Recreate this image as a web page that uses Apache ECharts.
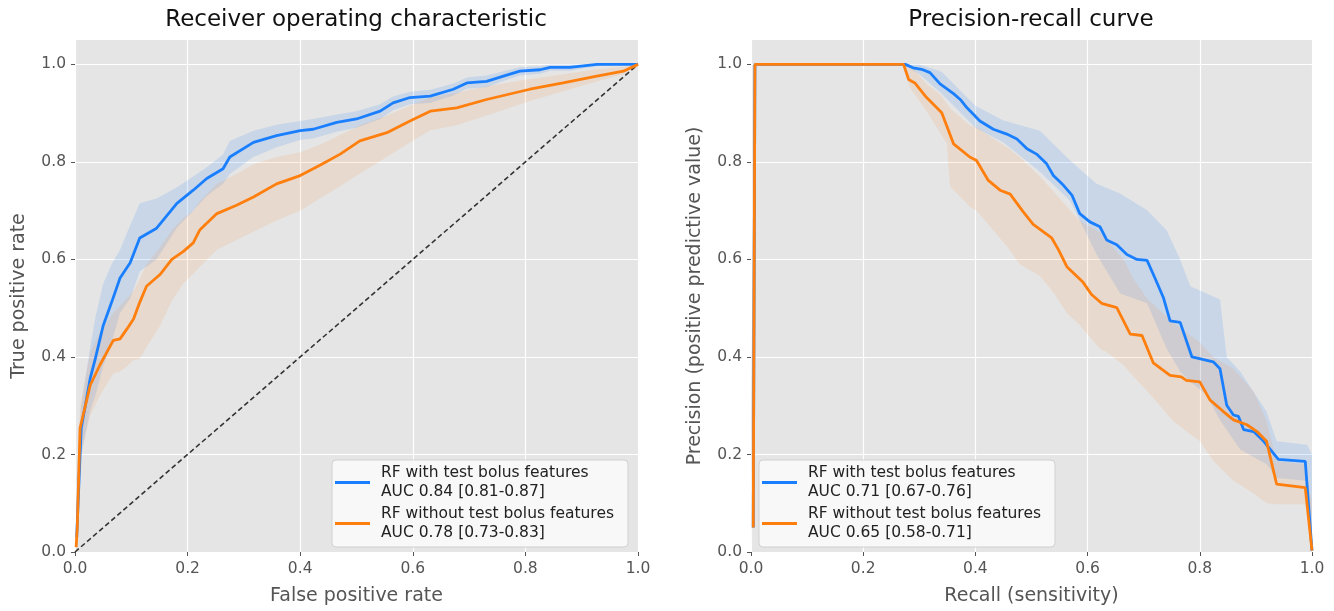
<!DOCTYPE html>
<html>
<head>
<meta charset="utf-8">
<script src="https://cdn.jsdelivr.net/npm/echarts@6/dist/echarts.min.js"></script>
<style>
html,body{margin:0;padding:0;background:#fff;}
#chart{width:1334px;height:611px;}
</style>
</head>
<body>
<div id="chart"></div>
<script>
// ---------- DATA ----------
const axisTicks = [0, 0.2, 0.4, 0.6, 0.8, 1.0];

const titles = ['Receiver operating characteristic', 'Precision-recall curve'];
const xNames = ['False positive rate', 'Recall (sensitivity)'];
const yNames = ['True positive rate', 'Precision (positive predictive value)'];

const rocNames = ['RF with test bolus features\nAUC 0.84 [0.81-0.87]',
                  'RF without test bolus features\nAUC 0.78 [0.73-0.83]'];
const prNames  = ['RF with test bolus features\nAUC 0.71 [0.67-0.76]',
                  'RF without test bolus features\nAUC 0.65 [0.58-0.71]'];

const chanceLine = [[0, 0], [1, 1]];

// ROC - with test bolus features (blue)
const rocFprB = [0.003, 0.011, 0.027, 0.036, 0.05, 0.065, 0.08, 0.098, 0.115, 0.145, 0.181, 0.21, 0.234, 0.263, 0.275, 0.317, 0.358, 0.4, 0.423, 0.465, 0.5, 0.542, 0.565, 0.595, 0.631, 0.672, 0.696, 0.731, 0.761, 0.79, 0.826, 0.844, 0.879, 0.927, 1.0];
const rocTprB = [0.03, 0.254, 0.356, 0.396, 0.464, 0.512, 0.562, 0.593, 0.644, 0.664, 0.715, 0.742, 0.766, 0.786, 0.81, 0.84, 0.854, 0.864, 0.867, 0.881, 0.888, 0.904, 0.921, 0.932, 0.935, 0.949, 0.962, 0.965, 0.976, 0.986, 0.989, 0.994, 0.994, 1.0, 1.0];
const rocHiB  = [0.15, 0.30, 0.42, 0.48, 0.55, 0.59, 0.62, 0.67, 0.715, 0.725, 0.748, 0.77, 0.789, 0.815, 0.843, 0.864, 0.876, 0.884, 0.888, 0.897, 0.904, 0.918, 0.934, 0.944, 0.948, 0.961, 0.973, 0.977, 0.986, 0.994, 0.996, 1.0, 1.0, 1.0, 1.0];
const rocLoB  = [0.0, 0.20, 0.29, 0.32, 0.38, 0.43, 0.49, 0.52, 0.575, 0.60, 0.665, 0.70, 0.73, 0.755, 0.775, 0.81, 0.83, 0.845, 0.848, 0.862, 0.87, 0.888, 0.906, 0.918, 0.921, 0.936, 0.950, 0.953, 0.966, 0.977, 0.981, 0.987, 0.987, 0.996, 1.0];

// ROC - without test bolus features (orange)
const rocFprO = [0.002, 0.004, 0.009, 0.027, 0.044, 0.068, 0.08, 0.092, 0.104, 0.115, 0.127, 0.151, 0.172, 0.192, 0.21, 0.222, 0.252, 0.287, 0.317, 0.358, 0.4, 0.435, 0.471, 0.506, 0.554, 0.595, 0.631, 0.678, 0.731, 0.808, 0.867, 0.927, 0.974, 1.0];
const rocTprO = [0.01, 0.05, 0.254, 0.342, 0.383, 0.434, 0.437, 0.457, 0.478, 0.512, 0.545, 0.569, 0.600, 0.616, 0.634, 0.661, 0.694, 0.711, 0.728, 0.755, 0.772, 0.793, 0.816, 0.843, 0.860, 0.884, 0.904, 0.911, 0.928, 0.949, 0.962, 0.976, 0.986, 1.0];
const rocHiO  = [0.10, 0.15, 0.30, 0.41, 0.45, 0.49, 0.505, 0.52, 0.535, 0.56, 0.59, 0.625, 0.66, 0.685, 0.70, 0.72, 0.755, 0.775, 0.795, 0.81, 0.82, 0.835, 0.855, 0.875, 0.895, 0.915, 0.932, 0.942, 0.955, 0.97, 0.98, 0.99, 0.995, 1.0];
const rocLoO  = [0.0, 0.0, 0.19, 0.28, 0.32, 0.366, 0.37, 0.38, 0.393, 0.396, 0.42, 0.464, 0.515, 0.55, 0.57, 0.585, 0.62, 0.64, 0.657, 0.68, 0.70, 0.725, 0.75, 0.776, 0.81, 0.84, 0.865, 0.875, 0.895, 0.925, 0.945, 0.965, 0.98, 1.0];

// Precision-recall - with test bolus features (blue)
const prRecB  = [0.004, 0.007, 0.275, 0.289, 0.304, 0.319, 0.337, 0.361, 0.373, 0.385, 0.408, 0.432, 0.456, 0.474, 0.492, 0.509, 0.527, 0.539, 0.557, 0.572, 0.586, 0.604, 0.622, 0.634, 0.652, 0.670, 0.688, 0.706, 0.720, 0.735, 0.747, 0.765, 0.786, 0.824, 0.836, 0.848, 0.860, 0.869, 0.878, 0.896, 0.914, 0.940, 0.988, 1.0];
const prPrecB = [0.05, 1.0, 1.0, 0.993, 0.99, 0.983, 0.96, 0.94, 0.928, 0.911, 0.884, 0.867, 0.857, 0.847, 0.827, 0.816, 0.796, 0.772, 0.752, 0.732, 0.694, 0.677, 0.667, 0.640, 0.630, 0.610, 0.600, 0.598, 0.562, 0.522, 0.474, 0.471, 0.400, 0.390, 0.376, 0.301, 0.281, 0.278, 0.251, 0.247, 0.227, 0.190, 0.186, 0.003];
const prBandRecB = [0.0, 0.007, 0.27, 0.30, 0.34, 0.40, 0.45, 0.515, 0.569, 0.616, 0.658, 0.706, 0.741, 0.765, 0.783, 0.812, 0.836, 0.848, 0.872, 0.919, 0.937, 0.991, 1.0];
const prHiB = [0.30, 1.0, 1.0, 1.0, 0.985, 0.915, 0.885, 0.864, 0.803, 0.755, 0.735, 0.701, 0.66, 0.60, 0.545, 0.53, 0.518, 0.40, 0.37, 0.288, 0.227, 0.22, 0.20];
const prLoB = [0.0, 1.0, 1.0, 0.98, 0.94, 0.87, 0.84, 0.78, 0.72, 0.61, 0.53, 0.51, 0.417, 0.37, 0.349, 0.322, 0.27, 0.25, 0.21, 0.18, 0.152, 0.146, 0.0];

// Precision-recall - without test bolus features (orange)
const prRecO  = [0.004, 0.007, 0.272, 0.281, 0.292, 0.313, 0.340, 0.361, 0.390, 0.402, 0.423, 0.444, 0.462, 0.485, 0.503, 0.536, 0.548, 0.563, 0.592, 0.607, 0.625, 0.652, 0.676, 0.697, 0.717, 0.747, 0.767, 0.776, 0.800, 0.818, 0.842, 0.860, 0.884, 0.902, 0.919, 0.937, 0.988, 1.0];
const prPrecO = [0.05, 1.0, 1.0, 0.969, 0.962, 0.932, 0.901, 0.837, 0.810, 0.803, 0.762, 0.742, 0.734, 0.698, 0.672, 0.644, 0.620, 0.585, 0.553, 0.528, 0.510, 0.501, 0.447, 0.444, 0.388, 0.362, 0.359, 0.352, 0.349, 0.312, 0.288, 0.271, 0.261, 0.247, 0.227, 0.139, 0.132, 0.003];
const prBandRecO = [0.0, 0.007, 0.27, 0.283, 0.313, 0.337, 0.349, 0.355, 0.39, 0.402, 0.456, 0.479, 0.515, 0.539, 0.563, 0.586, 0.622, 0.634, 0.664, 0.682, 0.706, 0.753, 0.80, 0.824, 0.86, 0.896, 0.919, 0.937, 0.988, 1.0];
const prHiO = [0.25, 1.0, 1.0, 1.0, 0.96, 0.938, 0.92, 0.91, 0.875, 0.871, 0.83, 0.81, 0.77, 0.74, 0.708, 0.68, 0.655, 0.64, 0.60, 0.56, 0.52, 0.47, 0.43, 0.40, 0.376, 0.329, 0.268, 0.186, 0.18, 0.10];
const prLoO = [0.0, 1.0, 1.0, 0.952, 0.904, 0.86, 0.837, 0.749, 0.708, 0.70, 0.627, 0.59, 0.566, 0.532, 0.49, 0.465, 0.417, 0.41, 0.383, 0.36, 0.33, 0.268, 0.227, 0.187, 0.146, 0.12, 0.10, 0.098, 0.098, 0.0];

// ---------- STYLE ----------
const FONT = 'DejaVu Sans';
const BLUE = '#1a7fff';
const ORANGE = '#ff7f0e';
const BLUE_BAND = 'rgba(30,128,255,0.14)';
const ORANGE_BAND = 'rgba(255,127,14,0.11)';

function zip(xs, ys) { return xs.map((x, i) => [x, ys[i]]); }

function band(idx, xs, lo, hi, color) {
  return {
    type: 'custom', xAxisIndex: idx, yAxisIndex: idx, silent: true, z: 1,
    data: xs.map((x, i) => [x, lo[i], hi[i]]),
    encode: { x: 0, y: [1, 2] },
    renderItem: function (params, api) {
      if (params.dataIndex !== 0) return null;
      const pts = [];
      for (let i = 0; i < xs.length; i++) pts.push(api.coord([xs[i], lo[i]]));
      for (let i = xs.length - 1; i >= 0; i--) pts.push(api.coord([xs[i], hi[i]]));
      return { type: 'polygon', shape: { points: pts }, style: { fill: color } };
    }
  };
}

function line(idx, name, xs, ys, color) {
  return {
    type: 'line', name: name, xAxisIndex: idx, yAxisIndex: idx, z: 5,
    data: zip(xs, ys), showSymbol: false, symbol: 'none',
    lineStyle: { color: color, width: 2.8 }, itemStyle: { color: color },
    animation: false
  };
}

function xAxis(idx) {
  return {
    type: 'value', gridIndex: idx, min: 0, max: 1, interval: 0.2,
    name: xNames[idx], nameLocation: 'middle', nameGap: 35,
    nameTextStyle: { fontFamily: FONT, fontSize: 19, color: '#555' },
    axisLine: { show: false },
    axisTick: { show: true, length: 4, lineStyle: { color: '#555', width: 1 } },
    axisLabel: { fontFamily: FONT, fontSize: 15.5, color: '#555', margin: 9,
      formatter: v => v.toFixed(1) },
    splitLine: { show: true, lineStyle: { color: '#ffffff', width: 1.2 } }
  };
}
function yAxis(idx) {
  return {
    type: 'value', gridIndex: idx, min: 0, max: 1.05, interval: 0.2,
    name: yNames[idx], nameLocation: 'middle', nameGap: 46,
    nameTextStyle: { fontFamily: FONT, fontSize: 19, color: '#555' },
    axisLine: { show: false },
    axisTick: { show: true, length: 4, lineStyle: { color: '#555', width: 1 }, customValues: axisTicks },
    axisLabel: { fontFamily: FONT, fontSize: 15.5, color: '#555', margin: 9,
      customValues: axisTicks, formatter: v => (v > 1.001 ? '' : v.toFixed(1)) },
    splitLine: { show: true, lineStyle: { color: '#ffffff', width: 1.2 } }
  };
}

function legend(left, names) {
  return {
    data: names, left: left, top: 460, orient: 'vertical', selectedMode: false,
    icon: 'rect', itemWidth: 35, itemHeight: 3, itemGap: 2,
    backgroundColor: 'rgba(250,250,250,0.92)', borderColor: '#d0d0d0', borderWidth: 1,
    borderRadius: 4, padding: [3, 14, 4, 3],
    textStyle: { fontFamily: FONT, fontSize: 15.5, color: '#222', lineHeight: 19.5, padding: [0, 0, 0, 6] }
  };
}

const option = {
  animation: false,
  backgroundColor: '#ffffff',
  title: [
    { text: titles[0], left: 351, top: 4, textAlign: 'center',
      textStyle: { fontFamily: FONT, fontSize: 23, fontWeight: 'normal', color: '#111' } },
    { text: titles[1], left: 1026, top: 4, textAlign: 'center',
      textStyle: { fontFamily: FONT, fontSize: 23, fontWeight: 'normal', color: '#111' } }
  ],
  grid: [
    { left: 75, right: 696, top: 40, bottom: 56, show: true, backgroundColor: '#e5e5e5', borderWidth: 0 },
    { left: 751, right: 22, top: 40, bottom: 56, show: true, backgroundColor: '#e5e5e5', borderWidth: 0 }
  ],
  xAxis: [xAxis(0), xAxis(1)],
  yAxis: [yAxis(0), yAxis(1)],
  legend: [legend(332, rocNames), legend(759, prNames)],
  series: [
    band(0, rocFprB, rocLoB, rocHiB, BLUE_BAND),
    band(0, rocFprO, rocLoO, rocHiO, ORANGE_BAND),
    {
      type: 'line', xAxisIndex: 0, yAxisIndex: 0, data: chanceLine, showSymbol: false, symbol: 'none', z: 3,
      lineStyle: { color: '#333', width: 1.6, type: [5, 3] }, silent: true
    },
    line(0, rocNames[0], rocFprB, rocTprB, BLUE),
    line(0, rocNames[1], rocFprO, rocTprO, ORANGE),
    band(1, prBandRecB, prLoB, prHiB, BLUE_BAND),
    band(1, prBandRecO, prLoO, prHiO, ORANGE_BAND),
    line(1, prNames[0], prRecB, prPrecB, BLUE),
    line(1, prNames[1], prRecO, prPrecO, ORANGE)
  ]
};

const chart = echarts.init(document.getElementById('chart'), null, { renderer: 'canvas' });
chart.setOption(option);
</script>
</body>
</html>
